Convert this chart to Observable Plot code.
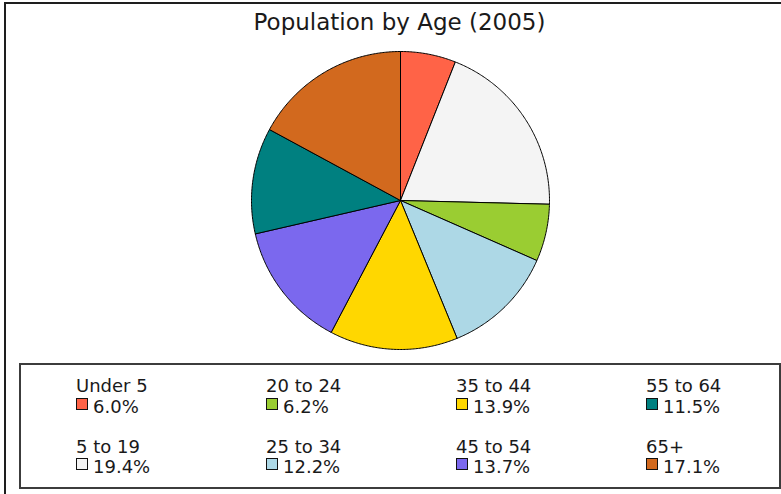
<!DOCTYPE html>
<html>
<head>
<meta charset="utf-8">
<script src="https://cdn.jsdelivr.net/npm/d3@7"></script>
<script src="https://cdn.jsdelivr.net/npm/@observablehq/plot@0.6"></script>
<style>
  html, body { margin: 0; padding: 0; background: #fff; }
  #root { position: relative; width: 781px; height: 494px; overflow: hidden; font-family: "DejaVu Sans", Verdana, sans-serif; color: #1a1a1a; }
  #frame { position: absolute; left: 4px; top: 2px; width: 900px; height: 600px; border-left: 2px solid #1e1e1e; border-top: 2px solid #1e1e1e; }
  #title { position: absolute; left: 0; width: 799px; text-align: center; top: 11px; font-size: 23px; line-height: 23px; white-space: nowrap; }
  #pie { position: absolute; left: 250px; top: 50px; }
  #legend { position: absolute; left: 19px; top: 363px; width: 758px; height: 122px; border: 2px solid #3c3c3c; }
  .lbl { position: absolute; font-size: 18px; line-height: 18px; white-space: nowrap; }
  .sw { position: absolute; width: 10px; height: 10px; border: 1px solid #111; }
</style>
</head>
<body>
<div id="root">
  <div id="frame"></div>
  <div id="title"></div>
  <div id="pie"></div>
  <div id="legend"></div>
</div>
<script>
const title = "Population by Age (2005)";
const ageGroups = ["Under 5", "5 to 19", "20 to 24", "25 to 34", "35 to 44", "45 to 54", "55 to 64", "65+"];
const shares = [6.0, 19.4, 6.2, 12.2, 13.9, 13.7, 11.5, 17.1];
const sliceColors = ["#ff6347", "#f4f4f4", "#9acd32", "#add8e6", "#ffd700", "#7b68ee", "#008080", "#d2691e"];

document.getElementById("title").textContent = title;

// Slice outlines computed from the shares via d3.pie (0 = 12 o'clock, clockwise)
const arcs = d3.pie().sort(null).value(d => d)(shares);
const pts = [];
arcs.forEach((a, i) => {
  const label = ageGroups[i];
  pts.push({label, x: 0, y: 0});
  const n = Math.max(2, Math.ceil((a.endAngle - a.startAngle) / 0.01));
  for (let k = 0; k <= n; k++) {
    const t = a.startAngle + (a.endAngle - a.startAngle) * k / n;
    pts.push({label, x: Math.sin(t), y: Math.cos(t)});
  }
  pts.push({label, x: 0, y: 0});
});

const chart = Plot.plot({
  width: 300,
  height: 300,
  margin: 1,
  x: {domain: [-1, 1], axis: null},
  y: {domain: [-1, 1], axis: null},
  color: {domain: ageGroups, range: sliceColors},
  style: {background: "transparent", overflow: "visible"},
  marks: [
    Plot.line(pts, {x: "x", y: "y", z: "label", fill: "label", stroke: "#000", strokeWidth: 1, strokeLinejoin: "round", curve: "linear"})
  ]
});
document.getElementById("pie").appendChild(chart);

// Legend (column-major, 4 columns x 2 rows)
const legend = document.getElementById("legend");
const lx0 = 19 + 2, ly0 = 363 + 2; // inner origin of legend box
ageGroups.forEach((g, i) => {
  const col = Math.floor(i / 2), row = i % 2;
  const x = 76 + 190 * col;
  const labelBase = row === 0 ? 392 : 453;
  const valueBase = row === 0 ? 413 : 473;
  const l = document.createElement("div");
  l.className = "lbl";
  l.textContent = g;
  l.style.left = (x - lx0) + "px";
  l.style.top = (labelBase - 15.2 - ly0) + "px";
  legend.appendChild(l);
  const s = document.createElement("div");
  s.className = "sw";
  s.style.background = sliceColors[i];
  s.style.left = (x - lx0) + "px";
  s.style.top = (valueBase - 15 - ly0) + "px";
  legend.appendChild(s);
  const v = document.createElement("div");
  v.className = "lbl";
  v.textContent = shares[i].toFixed(1) + "%";
  v.style.left = (x + 17 - lx0) + "px";
  v.style.top = (valueBase - 15.2 - ly0) + "px";
  legend.appendChild(v);
});
</script>
</body>
</html>
